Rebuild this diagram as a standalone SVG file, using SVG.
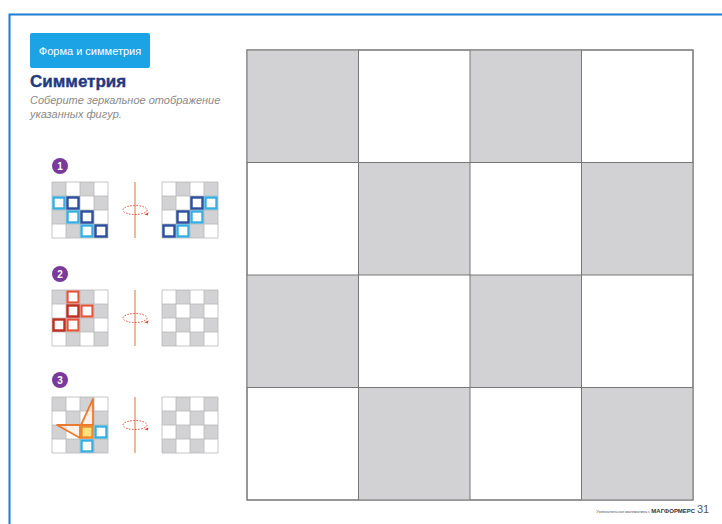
<svg xmlns="http://www.w3.org/2000/svg" width="722" height="524" viewBox="0 0 722 524">
<defs>
<style>
.g{fill:#d2d2d4}
.w{fill:#ffffff}
.bigline{stroke:#777;stroke-width:1;fill:none}
.sl{stroke:#b8b8b8;stroke-width:0.8;fill:none}
.cy{fill:#fff;stroke:#38aee0;stroke-width:2.4}
.db{fill:#fff;stroke:#2c4f9e;stroke-width:2.4}
.rl{fill:#fff;stroke:#e2553a;stroke-width:2.2}
.rd{fill:#fff;stroke:#bf2e22;stroke-width:2.4}
.axis{stroke:#e8a07a;stroke-width:1.5}
.ell{fill:none;stroke:#e0473a;stroke-width:1;stroke-dasharray:1.5 1.5}
.badge{fill:#7a3a9a}
.bn{fill:#fff;font-family:"Liberation Sans",Arial,sans-serif;font-weight:bold;font-size:10px;text-anchor:middle}
.sub{fill:#8a8a8a;font-family:"Liberation Sans",Arial,sans-serif;font-style:italic;font-size:11px}
</style>
<g id="axisSym">
<line x1="0" y1="-28" x2="0" y2="28" class="axis"/>
<ellipse cx="0" cy="0" rx="12" ry="4.5" class="ell"/>
<path d="M13.5,2.2 L9.5,4.6 L12.8,5.6 Z" fill="#e0473a"/>
</g>
</defs>

<rect x="0" y="0" width="722" height="524" fill="#fff"/>
<rect x="9.5" y="14.5" width="800" height="600" fill="none" stroke="#1b7fd2" stroke-width="2"/>

<g id="header">
<rect x="30" y="33" width="120" height="35" rx="2" fill="#1ba3e6"/>
<text x="90" y="55" fill="#fff" font-family="Liberation Sans,Arial,sans-serif" font-size="11" text-anchor="middle">Форма и симметрия</text>
<text x="30" y="87" fill="#1f3a80" font-family="Liberation Sans,Arial,sans-serif" font-weight="bold" font-size="17" stroke="#1f3a80" stroke-width="0.4">Симметрия</text>
<text x="30" y="104" class="sub">Соберите зеркальное отображение</text>
<text x="30" y="118" class="sub">указанных фигур.</text>
</g>

<g id="big-grid">
<rect x="247" y="50" width="446" height="450" fill="#fff" stroke="#b8b8b8" stroke-width="2"/>
<g class="g">
<rect x="247" y="50" width="111.5" height="112.5"/>
<rect x="470" y="50" width="111.5" height="112.5"/>
<rect x="358.5" y="162.5" width="111.5" height="112.5"/>
<rect x="581.5" y="162.5" width="111.5" height="112.5"/>
<rect x="247" y="275" width="111.5" height="112.5"/>
<rect x="470" y="275" width="111.5" height="112.5"/>
<rect x="358.5" y="387.5" width="111.5" height="112.5"/>
<rect x="581.5" y="387.5" width="111.5" height="112.5"/>
</g>
<path class="bigline" d="M358.5,50V500M470,50V500M581.5,50V500M247,162.5H693M247,275H693M247,387.5H693M247,50H693V500H247Z"/>
</g>

<g id="task1">
<circle class="badge" cx="60" cy="166" r="8"/>
<text class="bn" x="60" y="169.5">1</text>
<g id="t1-left">
<rect x="52" y="182" width="56" height="56" fill="#fff"/>
<g class="g"><rect x="52" y="182" width="14" height="14"/><rect x="80" y="182" width="14" height="14"/><rect x="66" y="196" width="14" height="14"/><rect x="94" y="196" width="14" height="14"/><rect x="52" y="210" width="14" height="14"/><rect x="80" y="210" width="14" height="14"/><rect x="66" y="224" width="14" height="14"/><rect x="94" y="224" width="14" height="14"/></g>
<path class="sl" d="M52,182h56v56h-56zM66,182v56M80,182v56M94,182v56M52,196h56M52,210h56M52,224h56"/>
<rect class="cy" x="53.5" y="197.5" width="11" height="11"/>
<rect class="db" x="67.5" y="197.5" width="11" height="11"/>
<rect class="cy" x="67.5" y="211.5" width="11" height="11"/>
<rect class="db" x="81.5" y="211.5" width="11" height="11"/>
<rect class="cy" x="81.5" y="225.5" width="11" height="11"/>
<rect class="db" x="95.5" y="225.5" width="11" height="11"/>
</g>
<use href="#axisSym" x="135" y="210"/>
<g id="t1-right">
<rect x="162" y="182" width="56" height="56" fill="#fff"/>
<g class="g"><rect x="176" y="182" width="14" height="14"/><rect x="204" y="182" width="14" height="14"/><rect x="162" y="196" width="14" height="14"/><rect x="190" y="196" width="14" height="14"/><rect x="176" y="210" width="14" height="14"/><rect x="204" y="210" width="14" height="14"/><rect x="162" y="224" width="14" height="14"/><rect x="190" y="224" width="14" height="14"/></g>
<path class="sl" d="M162,182h56v56h-56zM176,182v56M190,182v56M204,182v56M162,196h56M162,210h56M162,224h56"/>
<rect class="db" x="191.5" y="197.5" width="11" height="11"/>
<rect class="cy" x="205.5" y="197.5" width="11" height="11"/>
<rect class="db" x="177.5" y="211.5" width="11" height="11"/>
<rect class="cy" x="191.5" y="211.5" width="11" height="11"/>
<rect class="db" x="163.5" y="225.5" width="11" height="11"/>
<rect class="cy" x="177.5" y="225.5" width="11" height="11"/>
</g>
</g>

<g id="task2">
<circle class="badge" cx="60" cy="274" r="8"/>
<text class="bn" x="60" y="277.5">2</text>
<g id="t2-left">
<rect x="52" y="290" width="56" height="56" fill="#fff"/>
<g class="g"><rect x="52" y="290" width="14" height="14"/><rect x="80" y="290" width="14" height="14"/><rect x="66" y="304" width="14" height="14"/><rect x="94" y="304" width="14" height="14"/><rect x="52" y="318" width="14" height="14"/><rect x="80" y="318" width="14" height="14"/><rect x="66" y="332" width="14" height="14"/><rect x="94" y="332" width="14" height="14"/></g>
<path class="sl" d="M52,290h56v56h-56zM66,290v56M80,290v56M94,290v56M52,304h56M52,318h56M52,332h56"/>
<rect class="rl" x="67.5" y="291.5" width="11" height="11"/>
<rect class="rd" x="67.5" y="305.5" width="11" height="11"/>
<rect class="rl" x="81.5" y="305.5" width="11" height="11"/>
<rect class="rd" x="53.5" y="319.5" width="11" height="11"/>
<rect class="rl" x="67.5" y="319.5" width="11" height="11"/>
</g>
<use href="#axisSym" x="135" y="318"/>
<g id="t2-right">
<rect x="162" y="290" width="56" height="56" fill="#fff"/>
<g class="g"><rect x="176" y="290" width="14" height="14"/><rect x="204" y="290" width="14" height="14"/><rect x="162" y="304" width="14" height="14"/><rect x="190" y="304" width="14" height="14"/><rect x="176" y="318" width="14" height="14"/><rect x="204" y="318" width="14" height="14"/><rect x="162" y="332" width="14" height="14"/><rect x="190" y="332" width="14" height="14"/></g>
<path class="sl" d="M162,290h56v56h-56zM176,290v56M190,290v56M204,290v56M162,304h56M162,318h56M162,332h56"/>
</g>
</g>

<g id="task3">
<circle class="badge" cx="60" cy="380" r="8"/>
<text class="bn" x="60" y="383.5">3</text>
<g id="t3-left">
<rect x="52" y="397" width="56" height="56" fill="#fff"/>
<g class="g"><rect x="52" y="397" width="14" height="14"/><rect x="80" y="397" width="14" height="14"/><rect x="66" y="411" width="14" height="14"/><rect x="94" y="411" width="14" height="14"/><rect x="52" y="425" width="14" height="14"/><rect x="80" y="425" width="14" height="14"/><rect x="66" y="439" width="14" height="14"/><rect x="94" y="439" width="14" height="14"/></g>
<path class="sl" d="M52,397h56v56h-56zM66,397v56M80,397v56M94,397v56M52,411h56M52,425h56M52,439h56"/>
<path d="M93,399 L93,425 L81,425 Z" fill="#fbe9dc" fill-opacity="0.6" stroke="#ec7a2e" stroke-width="1.8" stroke-linejoin="round"/>
<path d="M57,425 L80,425 L80,438 Z" fill="#fbe9dc" fill-opacity="0.6" stroke="#ec7a2e" stroke-width="1.8" stroke-linejoin="round"/>
<rect x="81.5" y="426.5" width="11" height="11" fill="#fbe27a" stroke="#ec8a2e" stroke-width="2.4"/>
<rect class="cy" x="95.5" y="426.5" width="11" height="11"/>
<rect class="cy" x="81.5" y="440.5" width="11" height="11"/>
</g>
<use href="#axisSym" x="135" y="425"/>
<g id="t3-right">
<rect x="162" y="397" width="56" height="56" fill="#fff"/>
<g class="g"><rect x="176" y="397" width="14" height="14"/><rect x="204" y="397" width="14" height="14"/><rect x="162" y="411" width="14" height="14"/><rect x="190" y="411" width="14" height="14"/><rect x="176" y="425" width="14" height="14"/><rect x="204" y="425" width="14" height="14"/><rect x="162" y="439" width="14" height="14"/><rect x="190" y="439" width="14" height="14"/></g>
<path class="sl" d="M162,397h56v56h-56zM176,397v56M190,397v56M204,397v56M162,411h56M162,425h56M162,439h56"/>
</g>
</g>

<g id="footer">
<text x="695" y="513" font-family="Liberation Sans,Arial,sans-serif" font-size="4" fill="#555" text-anchor="end">Увлекательная математика с <tspan font-size="6" font-weight="bold" fill="#333">МАГФОРМЕРС</tspan></text>
<text x="697" y="513" font-family="Liberation Sans,Arial,sans-serif" font-size="11" fill="#555">31</text>
</g>
</svg>
